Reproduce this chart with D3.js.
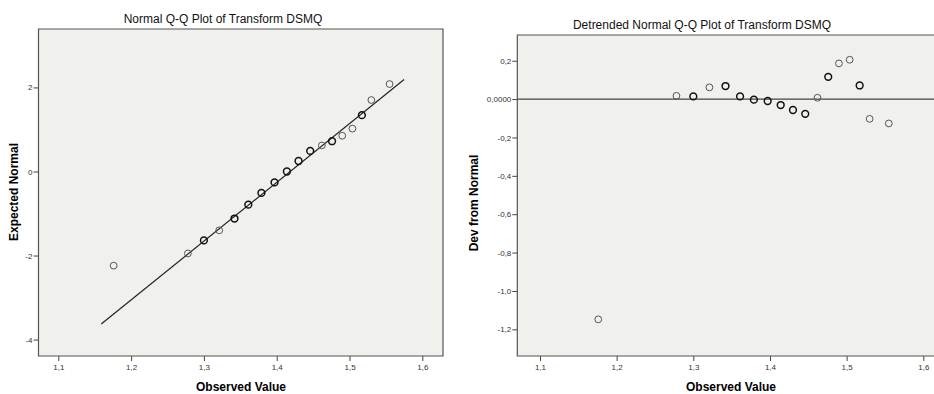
<!DOCTYPE html>
<html>
<head>
<meta charset="utf-8">
<script src="https://cdn.jsdelivr.net/npm/d3@7"></script>
<style>
  html, body { margin: 0; padding: 0; background: #fff; }
  svg { display: block; font-family: "Liberation Sans", Arial, sans-serif; }
  .tick text { fill: #333; font-size: 8px; }
  .tick line { stroke: #444; }
</style>
</head>
<body>
<div id="chart"></div>
<script>
const observed = [1.176, 1.278, 1.300, 1.321, 1.342, 1.361, 1.379, 1.397, 1.414, 1.430, 1.446, 1.462, 1.476, 1.490, 1.504, 1.517, 1.530, 1.555];
const expectedNormal = [-2.24, -1.95, -1.64, -1.40, -1.12, -0.79, -0.51, -0.26, 0.00, 0.25, 0.49, 0.62, 0.72, 0.85, 1.02, 1.34, 1.70, 2.08];
const devFromNormal = [-1.148, 0.017, 0.014, 0.061, 0.068, 0.014, -0.003, -0.010, -0.031, -0.057, -0.077, 0.007, 0.116, 0.186, 0.205, 0.071, -0.103, -0.127];
// puntos repetidos (se dibujan mas gruesos)
const ties = [1, 1, 2, 1, 2, 2, 2, 2, 2, 2, 2, 1, 2, 1, 1, 2, 1, 1];

// Recta normal esperada
const trendLine = [[1.159, -3.63], [1.575, 2.19]];

// Ticks
const xTicks = [1.1, 1.2, 1.3, 1.4, 1.5, 1.6];
const xTickLabels = ["1,1", "1,2", "1,3", "1,4", "1,5", "1,6"];
const qqTicks = [-4, -2, 0, 2];
const qqTickLabels = ["-4", "-2", "0", "2"];
const devTicks = [0.2, 0, -0.2, -0.4, -0.6, -0.8, -1.0, -1.2];
const devTickLabels = ["0,2", "0,0000", "-0,2", "-0,4", "-0,6", "-0,8", "-1,0", "-1,2"];

const width = 934, height = 394;
const points = observed.map((x, i) => ({ x, e: expectedNormal[i], d: devFromNormal[i], n: ties[i] }));

const svg = d3.select("#chart").append("svg")
  .attr("width", width)
  .attr("height", height);

// Dibuja un panel con marco, ejes y titulos
const drawPanel = (cfg) => {
  const x = d3.scaleLinear().domain(cfg.xDomain).range([cfg.left, cfg.right]);
  const y = d3.scaleLinear().domain(cfg.yDomain).range([cfg.bottom, cfg.top]);
  const g = svg.append("g");

  g.append("rect")
    .attr("x", cfg.left).attr("y", cfg.top)
    .attr("width", cfg.right - cfg.left).attr("height", cfg.bottom - cfg.top)
    .attr("fill", "#f0f0ec");

  g.append("g")
    .attr("transform", `translate(0,${cfg.bottom})`)
    .call(d3.axisBottom(x).tickValues(xTicks).tickFormat((d, i) => xTickLabels[i]).tickSize(5).tickPadding(3).tickSizeOuter(0))
    .call((a) => a.select(".domain").remove());

  g.append("g")
    .attr("transform", `translate(${cfg.left},0)`)
    .call(d3.axisLeft(y).tickValues(cfg.yTicks).tickFormat((d, i) => cfg.yTickLabels[i]).tickSize(5).tickPadding(1).tickSizeOuter(0))
    .call((a) => a.select(".domain").remove());

  // marco (el panel derecho queda cortado por la derecha)
  g.append("path")
    .attr("d", `M${cfg.right},${cfg.top}H${cfg.left}V${cfg.bottom}H${cfg.right}` + (cfg.closed ? "Z" : ""))
    .attr("fill", "none")
    .attr("stroke", "#555")
    .attr("stroke-width", 1.2);

  g.append("text")
    .attr("x", cfg.titleX).attr("y", cfg.titleY)
    .attr("text-anchor", "middle")
    .style("font-size", "12px")
    .style("fill", "#111")
    .text(cfg.title);

  g.append("text")
    .attr("x", cfg.xLabelX).attr("y", 391)
    .attr("text-anchor", "middle")
    .style("font-size", "12px").style("font-weight", "bold")
    .text("Observed Value");

  g.append("text")
    .attr("transform", `translate(${cfg.yLabelX},${cfg.yLabelY}) rotate(-90)`)
    .attr("text-anchor", "middle")
    .style("font-size", "12px").style("font-weight", "bold")
    .text(cfg.yLabel);

  return { g, x, y };
};

const drawPoints = (g, data, cx, cy) => {
  g.append("g")
    .selectAll("circle")
    .data(data)
    .enter()
    .append("circle")
    .attr("cx", cx)
    .attr("cy", cy)
    .attr("r", 3.4)
    .attr("fill", "none")
    .attr("stroke", (d) => (d.n > 1 ? "#111" : "#555"))
    .attr("stroke-width", (d) => (d.n > 1 ? 1.5 : 1));
};

// Panel izquierdo: Normal Q-Q
const left = drawPanel({
  left: 38.5, right: 443, top: 29, bottom: 356, closed: true,
  xDomain: [1.0728, 1.6284], yDomain: [-4.39, 3.39],
  yTicks: qqTicks, yTickLabels: qqTickLabels,
  title: "Normal Q-Q Plot of Transform DSMQ", titleX: 223, titleY: 23,
  xLabelX: 241, yLabel: "Expected Normal", yLabelX: 18, yLabelY: 192,
});

left.g.append("line")
  .attr("x1", left.x(trendLine[0][0])).attr("y1", left.y(trendLine[0][1]))
  .attr("x2", left.x(trendLine[1][0])).attr("y2", left.y(trendLine[1][1]))
  .attr("stroke", "#222")
  .attr("stroke-width", 1.2);

drawPoints(left.g, points, (d) => left.x(d.x), (d) => left.y(d.e));

// Panel derecho: Detrended Normal Q-Q
const right = drawPanel({
  left: 517.3, right: 940, top: 35, bottom: 356, closed: false,
  xDomain: [1.0704, 1.6218], yDomain: [-1.339, 0.334],
  yTicks: devTicks, yTickLabels: devTickLabels,
  title: "Detrended Normal Q-Q Plot of Transform DSMQ", titleX: 702, titleY: 29,
  xLabelX: 731, yLabel: "Dev from Normal", yLabelX: 478, yLabelY: 203,
});

right.g.append("line")
  .attr("x1", right.x.range()[0]).attr("x2", right.x.range()[1])
  .attr("y1", right.y(0)).attr("y2", right.y(0))
  .attr("stroke", "#444")
  .attr("stroke-width", 1.2);

drawPoints(right.g, points, (d) => right.x(d.x), (d) => right.y(d.d));
</script>
</body>
</html>
